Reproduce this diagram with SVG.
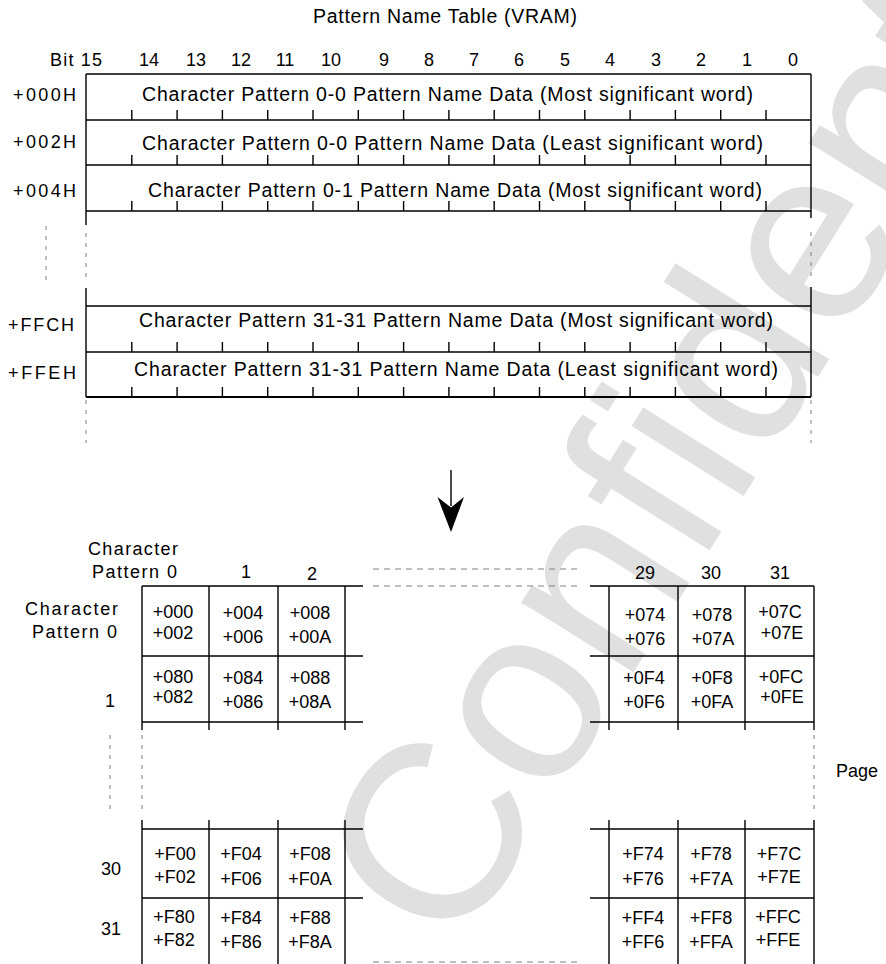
<svg xmlns="http://www.w3.org/2000/svg" xmlns:xlink="http://www.w3.org/1999/xlink" width="886" height="964" viewBox="0 0 886 964">
<style>
text{font-family:"Liberation Sans",Arial,sans-serif;font-size:18px;fill:#000}
.c{text-anchor:middle}
.big{font-size:19.5px}
.ln{stroke:#000;stroke-width:1.4;fill:none}
.dash{stroke:#808080;stroke-width:1;fill:none;stroke-dasharray:4 6}
.hdash{stroke:#808080;stroke-width:1;fill:none;stroke-dasharray:6 5}
.wm{font-size:250px;fill:#e0e0e0}
</style>
<defs>
<path id="ticks" class="ln" d="M131.8 0v-10M177.1 0v-10M222.4 0v-10M267.7 0v-10M313 0v-10M358.3 0v-10M403.6 0v-10M448.9 0v-10M494.2 0v-10M539.5 0v-10M584.8 0v-10M630.1 0v-10M675.4 0v-10M720.7 0v-10M766 0v-10"/>
</defs>
<rect width="886" height="964" fill="#fff"/>
<text class="wm" transform="translate(455,958) rotate(-58)">Confidential</text>

<g id="title"><text class="big" x="313" y="23" textLength="264">Pattern Name Table (VRAM)</text></g>

<g id="bit-labels">
<text x="50" y="66" textLength="52">Bit 15</text>
<text class="c" x="149" y="66">14</text><text class="c" x="196" y="66">13</text><text class="c" x="241" y="66">12</text><text class="c" x="285" y="66">11</text><text class="c" x="331" y="66">10</text><text class="c" x="384" y="66">9</text><text class="c" x="429" y="66">8</text><text class="c" x="474" y="66">7</text><text class="c" x="519" y="66">6</text><text class="c" x="565" y="66">5</text><text class="c" x="610" y="66">4</text><text class="c" x="656" y="66">3</text><text class="c" x="701" y="66">2</text><text class="c" x="747" y="66">1</text><text class="c" x="793" y="66">0</text>
</g>

<g id="table-top-frame">
<path class="ln" d="M86 74H811M86 120H811M86 165H811M86 211H811M86 74V225M811 74V218"/>
<use xlink:href="#ticks" y="120"/><use xlink:href="#ticks" y="165"/><use xlink:href="#ticks" y="211"/>
</g>
<g id="row-000"><text x="13" y="101" textLength="63">+000H</text><text class="big" x="142" y="101" textLength="611">Character Pattern 0-0 Pattern Name Data (Most significant word)</text></g>
<g id="row-002"><text x="13" y="148" textLength="63">+002H</text><text class="big" x="142" y="150" textLength="621">Character Pattern 0-0 Pattern Name Data (Least significant word)</text></g>
<g id="row-004"><text x="13" y="197" textLength="63">+004H</text><text class="big" x="148" y="197" textLength="614">Character Pattern 0-1 Pattern Name Data (Most significant word)</text></g>

<g id="table-bottom-frame">
<path class="ln" d="M86 306H811M86 352H811M86 288V397M811 287V397"/>
<path stroke="#000" stroke-width="2.2" d="M86 397H811"/>
<use xlink:href="#ticks" y="352"/><use xlink:href="#ticks" y="397"/>
</g>
<g id="row-FFC"><text x="8" y="331" textLength="66">+FFCH</text><text class="big" x="139" y="327" textLength="634">Character Pattern 31-31 Pattern Name Data (Most significant word)</text></g>
<g id="row-FFE"><text x="8" y="379" textLength="68">+FFEH</text><text class="big" x="134" y="376" textLength="644">Character Pattern 31-31 Pattern Name Data (Least significant word)</text></g>

<g id="top-ellipsis">
<path class="dash" d="M46 226V283M86 233V280M811 232V280M86 400V443M811 400V443"/>
</g>

<g id="connectors">
<path class="ln" d="M451 470V506"/>
<path fill="#000" d="M451 532L437.5 497L451 507.5L464 497Z"/>
</g>

<g id="grid-headers">
<text x="88" y="555" textLength="90">Character</text>
<text x="92" y="578" textLength="85">Pattern 0</text>
<text class="c" x="246" y="578">1</text>
<text class="c" x="312" y="580">2</text>
<text class="c" x="645" y="579">29</text>
<text class="c" x="711" y="579">30</text>
<text class="c" x="780" y="579">31</text>
<text x="25" y="615" textLength="93">Character</text>
<text x="32" y="638" textLength="85">Pattern 0</text>
<text class="c" x="110" y="707">1</text>
<text class="c" x="111" y="875">30</text>
<text class="c" x="111" y="935">31</text>
<text x="836" y="777">Page</text>
</g>

<g id="grid-lines">
<path class="ln" d="M142 586H363M142 656H363M142 722H363M142 586V730M209 586V730M278 586V730M345 586V730"/>
<path class="ln" d="M590 586H814M590 656H814M590 722H814M609 586V730M678 586V730M745 586V730M814 586V730"/>
<path class="ln" d="M142 829H363M142 898H363M142 820V964M209 820V964M278 820V964M345 820V964"/>
<path class="ln" d="M590 829H814M590 898H814M609 820V964M678 820V964M745 820V964M814 820V964"/>
<path class="hdash" d="M373 569H582M373 586H582M373 962H582"/>
<path class="dash" d="M110 735V815M142 735V815M814 735V815"/>
</g>

<g id="cells-row0">
<text class="c" x="173" y="618">+000</text><text class="c" x="173" y="639">+002</text>
<text class="c" x="243" y="619">+004</text><text class="c" x="243" y="643">+006</text>
<text class="c" x="310" y="619">+008</text><text class="c" x="310" y="643">+00A</text>
<text class="c" x="645" y="621">+074</text><text class="c" x="645" y="645">+076</text>
<text class="c" x="712" y="621">+078</text><text class="c" x="713" y="645">+07A</text>
<text class="c" x="780" y="618">+07C</text><text class="c" x="782" y="639">+07E</text>
</g>
<g id="cells-row1">
<text class="c" x="173" y="683">+080</text><text class="c" x="173" y="703">+082</text>
<text class="c" x="243" y="684">+084</text><text class="c" x="243" y="708">+086</text>
<text class="c" x="310" y="684">+088</text><text class="c" x="310" y="708">+08A</text>
<text class="c" x="644" y="684">+0F4</text><text class="c" x="644" y="708">+0F6</text>
<text class="c" x="712" y="684">+0F8</text><text class="c" x="712" y="708">+0FA</text>
<text class="c" x="781" y="683">+0FC</text><text class="c" x="782" y="703">+0FE</text>
</g>
<g id="cells-row30">
<text class="c" x="175" y="860">+F00</text><text class="c" x="175" y="883">+F02</text>
<text class="c" x="241" y="860">+F04</text><text class="c" x="241" y="885">+F06</text>
<text class="c" x="310" y="860">+F08</text><text class="c" x="310" y="885">+F0A</text>
<text class="c" x="643" y="860">+F74</text><text class="c" x="643" y="885">+F76</text>
<text class="c" x="711" y="860">+F78</text><text class="c" x="711" y="885">+F7A</text>
<text class="c" x="779" y="860">+F7C</text><text class="c" x="779" y="883">+F7E</text>
</g>
<g id="cells-row31">
<text class="c" x="174" y="923">+F80</text><text class="c" x="174" y="946">+F82</text>
<text class="c" x="241" y="924">+F84</text><text class="c" x="241" y="948">+F86</text>
<text class="c" x="310" y="924">+F88</text><text class="c" x="310" y="948">+F8A</text>
<text class="c" x="643" y="924">+FF4</text><text class="c" x="643" y="948">+FF6</text>
<text class="c" x="711" y="924">+FF8</text><text class="c" x="711" y="948">+FFA</text>
<text class="c" x="778" y="923">+FFC</text><text class="c" x="778" y="946">+FFE</text>
</g>
</svg>
